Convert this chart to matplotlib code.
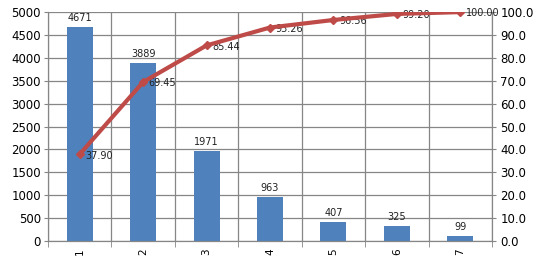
import numpy as np
import matplotlib.pyplot as plt

categories = ['1', '2', '3', '4', '5', '6', '7']
counts = [4671, 3889, 1971, 963, 407, 325, 99]
cum_pct = [37.90, 69.45, 85.44, 93.26, 96.56, 99.20, 100.00]


def main():
    fig = plt.figure(figsize=(5.43, 2.63), dpi=100)
    ax = fig.add_axes([0.0884, 0.0837, 0.8176, 0.8703])
    x = np.arange(len(categories))
    grid_c = '#868686'

    ax.bar(x, counts, width=0.41, color='#4F81BD', zorder=2)
    for xi, v in zip(x, counts):
        ax.annotate(str(v), (xi, v), xytext=(0, 3), textcoords='offset points',
                    ha='center', va='bottom', fontsize=7, color='#222222')

    ax.set_xlim(-0.5, len(categories) - 0.5)
    ax.set_ylim(0, 5000)
    ax.set_yticks(np.arange(0, 5001, 500))
    ax.set_xticks(x)
    ax.set_xticklabels(categories, rotation=90, fontsize=7.5)
    ax.set_xticks(np.arange(-0.5, len(categories)), minor=True)
    ax.tick_params(axis='x', which='major', length=0, pad=5)
    ax.tick_params(axis='x', which='minor', length=4, color=grid_c, direction='out')
    ax.tick_params(axis='y', labelsize=8.5, length=3, color=grid_c, pad=2)
    ax.grid(axis='y', color=grid_c, linewidth=0.9, zorder=0)
    ax.grid(axis='x', which='minor', color=grid_c, linewidth=0.9, zorder=0)
    ax.set_axisbelow(True)
    for s in ax.spines.values():
        s.set_color(grid_c)
    ax.spines['top'].set_visible(False)

    ax2 = ax.twinx()
    ax2.plot(x, cum_pct, color='#BE4B48', linewidth=3, marker='D', markersize=4, zorder=5)
    for xi, v in zip(x, cum_pct):
        ax2.annotate('%.2f' % v, (xi, v), xytext=(4, -1), textcoords='offset points',
                     ha='left', va='center', fontsize=7, color='#222222')
    ax2.set_ylim(0, 100)
    ax2.set_yticks(np.arange(0, 101, 10))
    ax2.set_yticklabels(['%.1f' % t for t in np.arange(0, 101, 10)])
    ax2.tick_params(axis='y', labelsize=8.5, length=3, color=grid_c, pad=3)
    for s in ax2.spines.values():
        s.set_color(grid_c)
    ax2.spines['top'].set_visible(False)

    fig.savefig('out.png', dpi=100)


if __name__ == '__main__':
    main()
